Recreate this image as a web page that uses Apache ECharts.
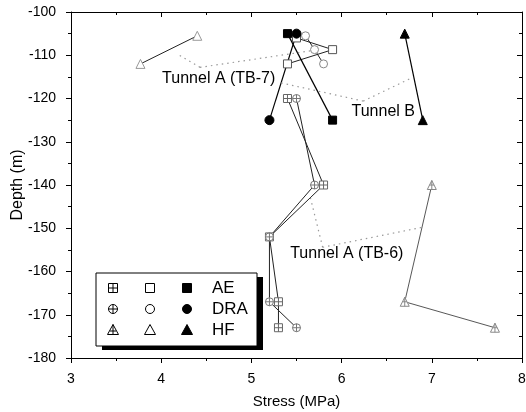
<!DOCTYPE html>
<html>
<head>
<meta charset="utf-8">
<script src="https://cdn.jsdelivr.net/npm/echarts@6/dist/echarts.min.js"></script>
<style>html,body{margin:0;padding:0;background:#fff}#c{width:526px;height:412px}</style>
</head>
<body>
<div id="c"></div>
<script>
// ---- data (stress in MPa, depth in m) ----
// Tunnel A (TB-6): crossed markers
const aeTB6Stress  = [5.4, 5.8, 5.2, 5.3, 5.3];
const aeTB6Depth   = [-120, -140, -152, -167, -173];
const draTB6Stress = [5.5, 5.7, 5.2, 5.2, 5.5];
const draTB6Depth  = [-120, -140, -152, -167, -173];
const hfTB6Stress  = [7.0, 6.7, 7.7];
const hfTB6Depth   = [-140, -167, -173];
// Tunnel A (TB-7): open markers
const aeTB7Stress  = [5.5, 5.9, 5.4];
const aeTB7Depth   = [-106, -108.7, -112];
const draTB7Stress = [5.6, 5.7, 5.8];
const draTB7Depth  = [-105.5, -108.7, -112];
const hfTB7Stress  = [4.4, 3.77];
const hfTB7Depth   = [-105.5, -112];
// Tunnel B: filled markers
const aeBStress    = [5.4, 5.9];
const aeBDepth     = [-105, -125];
const draBStress   = [5.5, 5.2];
const draBDepth    = [-105, -125];
const hfBStress    = [6.7, 6.9];
const hfBDepth     = [-105, -125];

const xTicks = [3, 4, 5, 6, 7, 8];
const yTicks = [-100, -110, -120, -130, -140, -150, -160, -170, -180];
const legendRows = ['AE', 'DRA', 'HF'];
const annoText = ['Tunnel A (TB-7)', 'Tunnel B', 'Tunnel A (TB-6)'];
const annoX = [4.01, 6.11, 5.43];
const annoY = [-115.3, -123.1, -155.8];
// leader lines: [x1,y1,x2,y2]
const leaders = [
  [4.43, -112.8, 4.17, -109.6],
  [4.43, -112.8, 5.68, -108.9],
  [6.24, -120.6, 5.31, -116.3],
  [6.24, -120.6, 6.76, -115.4],
  [5.79, -154.4, 5.65, -142.6],
  [5.79, -154.4, 6.89, -149.8]
];

const pairs = (xs, ys) => xs.map((v, i) => [v, ys[i]]);
const FONT = 'Liberation Sans';

const crossSq  = 'path://M0,0L10,0L10,10L0,10ZM5,0L5,10M0,5L10,5';
const crossCi  = 'path://M0,5A5,5,0,1,1,10,5A5,5,0,1,1,0,5ZM5,0L5,10M0,5L10,5';
const crossTri = 'path://M5,0L10,10L0,10ZM5,0L5,10M2.5,5L7.5,5';

function ser(name, xs, ys, symbol, size, fill, stroke, lineColor, lineW) {
  return {
    name, type: 'line', data: pairs(xs, ys), symbol, symbolSize: size,
    showSymbol: true, animation: false, z: 3,
    lineStyle: { color: lineColor, width: lineW },
    itemStyle: { color: fill, borderColor: stroke, borderWidth: 1 }
  };
}

const series = [
  ser('AE TB-6', aeTB6Stress, aeTB6Depth, crossSq, 8, '#fff', '#666', '#222', 1),
  ser('DRA TB-6', draTB6Stress, draTB6Depth, crossCi, 8, '#fff', '#777', '#222', 1),
  ser('HF TB-6', hfTB6Stress, hfTB6Depth, crossTri, 9, '#fff', '#888', '#444', 0.9),
  ser('AE TB-7', aeTB7Stress, aeTB7Depth, 'rect', 8, '#fff', '#555', '#222', 1),
  ser('DRA TB-7', draTB7Stress, draTB7Depth, 'circle', 8, '#fff', '#888', '#222', 1),
  ser('HF TB-7', hfTB7Stress, hfTB7Depth, 'triangle', 9, '#fff', '#999', '#222', 1),
  ser('AE B', aeBStress, aeBDepth, 'rect', 8, '#000', '#000', '#000', 1.2),
  ser('DRA B', draBStress, draBDepth, 'circle', 9, '#000', '#000', '#000', 1.2),
  ser('HF B', hfBStress, hfBDepth, 'triangle', 9, '#000', '#000', '#000', 1.2)
];

series.push({
  type: 'scatter', data: [], z: 2, animation: false, silent: true,
  markLine: {
    silent: true, symbol: 'none', animation: false,
    label: { show: false },
    lineStyle: { color: '#999', type: [1.5, 4], width: 1.2 },
    data: leaders.map(l => [{ coord: [l[0], l[1]] }, { coord: [l[2], l[3]] }])
  },
  markPoint: {
    silent: true, animation: false, symbol: 'circle', symbolSize: 0,
    label: { show: true, position: 'right', distance: 0, color: '#000', fontSize: 16, fontFamily: FONT },
    data: annoText.map((t, i) => ({ coord: [annoX[i], annoY[i]], label: { formatter: t } }))
  }
});

const axisLine = { show: true, onZero: false, lineStyle: { color: '#000', width: 1 } };
const option = {
  backgroundColor: '#fff',
  animation: false,
  grid: { left: 71, right: 4, top: 12, bottom: 54, containLabel: false, outerBoundsMode: 'none' },
  xAxis: [{
    type: 'value', min: xTicks[0], max: xTicks[xTicks.length - 1], interval: 1, position: 'bottom',
    name: 'Stress (MPa)', nameLocation: 'middle', nameGap: 36, nameMoveOverlap: false,
    nameTextStyle: { fontSize: 15, fontFamily: FONT, color: '#000' },
    axisLine, axisTick: { show: true, inside: false, length: 5, lineStyle: { color: '#000' } },
    minorTick: { show: true, splitNumber: 2, length: 3, lineStyle: { color: '#000' } },
    axisLabel: { fontSize: 14, fontFamily: FONT, color: '#000', margin: 14 },
    splitLine: { show: false }
  }, {
    type: 'value', min: xTicks[0], max: xTicks[xTicks.length - 1], interval: 1, position: 'top',
    axisLine, axisTick: { show: true, inside: true, length: 5, lineStyle: { color: '#000' } },
    minorTick: { show: true, splitNumber: 2, length: 3, lineStyle: { color: '#000' } },
    axisLabel: { show: false }, splitLine: { show: false }
  }],
  yAxis: [{
    type: 'value', min: yTicks[yTicks.length - 1], max: yTicks[0], interval: 10, position: 'left',
    name: 'Depth (m)', nameLocation: 'middle', nameGap: 45, nameRotate: 90, nameMoveOverlap: false,
    nameTextStyle: { fontSize: 16, fontFamily: FONT, color: '#000' },
    axisLine, axisTick: { show: true, inside: false, length: 5, lineStyle: { color: '#000' } },
    minorTick: { show: true, splitNumber: 2, length: 3, lineStyle: { color: '#000' } },
    axisLabel: { fontSize: 14, fontFamily: FONT, color: '#000', margin: 15 },
    splitLine: { show: false }
  }, {
    type: 'value', min: yTicks[yTicks.length - 1], max: yTicks[0], interval: 10, position: 'right',
    axisLine, axisTick: { show: true, inside: true, length: 5, lineStyle: { color: '#000' } },
    minorTick: { show: true, splitNumber: 2, length: 3, lineStyle: { color: '#000' } },
    axisLabel: { show: false }, splitLine: { show: false }
  }],
  series
};

// legend (drawn as graphic)
const LX = 96, LY = 273, LW = 161, LH = 73;
const colX = [113, 150, 187], rowY = [288, 309, 330], S = 4.5;
const g = [];
g.push({ type: 'rect', shape: { x: LX + 6, y: LY + 4, width: LW, height: LH }, style: { fill: '#000' }, z: 10 });
g.push({ type: 'rect', shape: { x: LX, y: LY, width: LW, height: LH }, style: { fill: '#fff', stroke: '#000', lineWidth: 1 }, z: 11 });
const st = { fill: '#fff', stroke: '#000', lineWidth: 1 };
const fl = { fill: '#000', stroke: '#000', lineWidth: 1 };
rowY.forEach((y, r) => {
  colX.forEach((x, c) => {
    const s = c === 2 ? fl : st;
    if (r === 0) g.push({ type: 'rect', shape: { x: x - S, y: y - S, width: 2 * S, height: 2 * S }, style: s, z: 12 });
    if (r === 1) g.push({ type: 'circle', shape: { cx: x, cy: y, r: S }, style: s, z: 12 });
    if (r === 2) g.push({ type: 'polygon', shape: { points: [[x, y - S - 1], [x + S + 1, y + S], [x - S - 1, y + S]] }, style: s, z: 12 });
    if (c === 0) {
      if (r === 2) {
        g.push({ type: 'line', shape: { x1: x, y1: y - S - 1, x2: x, y2: y + S }, style: { stroke: '#000', lineWidth: 1 }, z: 13 });
        g.push({ type: 'line', shape: { x1: x - 3, y1: y + 1, x2: x + 3, y2: y + 1 }, style: { stroke: '#000', lineWidth: 1 }, z: 13 });
      } else {
        g.push({ type: 'line', shape: { x1: x, y1: y - S, x2: x, y2: y + S }, style: { stroke: '#000', lineWidth: 1 }, z: 13 });
        g.push({ type: 'line', shape: { x1: x - S, y1: y, x2: x + S, y2: y }, style: { stroke: '#000', lineWidth: 1 }, z: 13 });
      }
    }
  });
  g.push({ type: 'text', x: 212, y: y, style: { text: legendRows[r], fontSize: 17, fontFamily: FONT, fill: '#000', textVerticalAlign: 'middle', verticalAlign: 'middle' }, z: 12 });
});
option.graphic = g;

const chart = echarts.init(document.getElementById('c'), null, { renderer: 'canvas' });
chart.setOption(option);
</script>
</body>
</html>
